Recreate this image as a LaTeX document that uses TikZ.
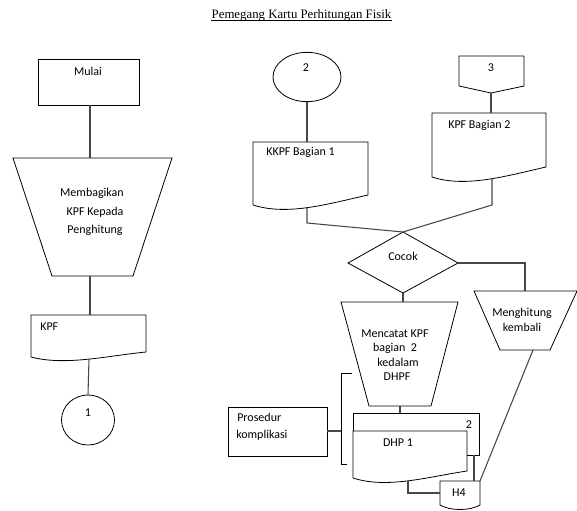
\documentclass[tikz,border=0pt]{standalone}
\usepackage{fontspec}
\setmainfont{Carlito}
\newfontfamily\titlefont{Liberation Serif}
\usetikzlibrary{shapes.geometric}
\begin{document}
\begin{tikzpicture}[x=0.75pt,y=-0.75pt,
  shp/.style={draw=black, line width=0.6pt},
  conn/.style={draw=black!72, line width=0.8pt},
  lbl/.style={inner sep=0pt, text height=5.8pt, text depth=0pt, font=\fontsize{9}{10}\selectfont, text=black},
  circ/.style={shp, ellipse, inner sep=0pt}]
\useasboundingbox (0,0) rectangle (577,510);
\fill[white] (0,0) rectangle (577,510);

% title
\node[inner sep=0pt, anchor=base, font=\titlefont\fontsize{9.6}{11}\selectfont] (title) at (301.5,19) {Pemegang Kartu Perhitungan Fisik};
\draw[line width=0.5pt] ([yshift=-1.1pt]title.base west) -- ([yshift=-1.1pt]title.base east);

% ---------- left column ----------
\draw[shp] (38,59) rectangle (139,105);
\node[lbl] (tMulai) at (88,72) {Mulai};
\coordinate (mulaiS) at (90,105);

\draw[shp] (13,158) -- (172,158) -- (133,276) -- (52,276) -- cycle;
\coordinate (bagiN) at (90,158);
\coordinate (bagiS) at (90,276);
\node[lbl] (tBagi1) at (92,193) {Membagikan};
\node[lbl] (tBagi2) at (95,212) {KPF Kepada};
\node[lbl] (tBagi3) at (95,230) {Penghitung};

\draw[shp] (31,357) -- (31,315) -- (146,315) -- (146,352) .. controls (105.75,356) and (65.5,366) .. (31,357);
\coordinate (kpfN) at (90,315);
\coordinate (kpfS) at (89,359);
\node[lbl, anchor=west] (tKpf) at (40,327) {KPF};

\node[circ, minimum width=39.75pt, minimum height=37.5pt] (c1) at (88,420) {};
\node[lbl] (tC1) at (88,413) {1};

\draw[conn] (mulaiS) -- (bagiN);
\draw[conn] (bagiS) -- (kpfN);
\draw[conn] (kpfS) -- (c1.north);

% ---------- right column ----------
\node[circ, minimum width=51pt, minimum height=37pt] (c2) at (307,77) {};
\node[lbl] (tC2) at (306,68) {2};

\draw[shp] (459,56) -- (524,56) -- (524,86) -- (491,93) -- (459,86) -- cycle;
\coordinate (off3S) at (491,93);
\node[lbl] (tOff3) at (491,68) {3};

\draw[shp] (253,205) -- (253,142) -- (368,142) -- (368,195) .. controls (327.75,204) and (287.5,216) .. (253,205);
\coordinate (kkpfN) at (307,142);
\coordinate (kkpfS) at (307,207.5);
\node[lbl, anchor=west] (tKkpf) at (266,152) {KKPF Bagian 1};

\draw[shp] (432,177) -- (432,113) -- (546,113) -- (546,167) .. controls (506,176) and (466,188) .. (432,177);
\coordinate (kpf2N) at (491,113);
\coordinate (kpf2S) at (492,178);
\node[lbl, anchor=west] (tKpf2) at (448,125) {KPF Bagian 2};

\draw[shp] (403,232) -- (458,263) -- (403,293) -- (348,263) -- cycle;
\coordinate (dmN) at (403,232);
\coordinate (dmE) at (458,263);
\coordinate (dmS) at (403,293);
\node[lbl] (tCocok) at (403,257) {Cocok};

\draw[shp] (341,302) -- (458,302) -- (431,406) -- (369,406) -- cycle;
\coordinate (mcN) at (403,302);
\coordinate (mcS) at (400,406);
\node[lbl] (tMc1) at (395,334) {Mencatat KPF};
\node[lbl] (tMc2) at (395,348) {bagian\ \ 2};
\node[lbl] (tMc3) at (398,363) {kedalam};
\node[lbl] (tMc4) at (397,377) {DHPF};

\draw[shp] (474,291) -- (577,291) -- (550,350) -- (500,350) -- cycle;
\coordinate (mhN) at (525,291);
\coordinate (mhS) at (533,350);
\node[lbl] (tMh1) at (522,313) {Menghitung};
\node[lbl] (tMh2) at (522,328) {kembali};

% Prosedur
\draw[shp] (228,407) rectangle (327,456);
\coordinate (prosE) at (327,431);
\node[lbl, anchor=west] (tPros1) at (237,418) {Prosedur};
\node[lbl, anchor=west] (tPros2) at (236,435) {komplikasi};
\draw[shp] (352,373) -- (341,373) -- (341,464) -- (347,464);
\coordinate (brk) at (341,431);

% DHP documents
\draw[shp] (353,431) -- (353,413) -- (479,413) -- (479,455) -- (467,455);
\draw[shp] (353,478) -- (353,431) -- (467,431) -- (467,471) .. controls (427,477) and (387,489) .. (353,478);
\coordinate (dhpN) at (400,413);
\coordinate (dhp1S) at (408,481);
\coordinate (dhp2S) at (474,455);
\node[lbl] (tDhp2) at (469,425) {2};
\node[lbl] (tDhp1) at (398,443) {DHP 1};

% H4
\draw[shp] (440,505) -- (440,481) -- (480,481) -- (480,505) .. controls (470,511) and (450,511) .. (440,505);
\coordinate (h4N) at (474,481);
\coordinate (h4NE) at (480,481);
\coordinate (h4W) at (440,493);
\node[lbl] (tH4) at (459,493) {H4};

% connectors
\draw[conn] (c2.south) -- (kkpfN);
\draw[conn] (off3S) -- (kpf2N);
\draw[conn] (kkpfS) -- (307,223) -- (dmN);
\draw[conn] (kpf2S) -- (492,205) -- (dmN);
\draw[conn] (dmE) -| (mhN);
\draw[conn] (dmS) -- (mcN);
\draw[conn] (mcS) -- (dhpN);
\draw[conn] (prosE) -- (brk);
\draw[conn] (dhp1S) |- (h4W);
\draw[conn] (dhp2S) -- (h4N);
\draw[conn] (mhS) -- (h4NE);
\end{tikzpicture}
\end{document}
